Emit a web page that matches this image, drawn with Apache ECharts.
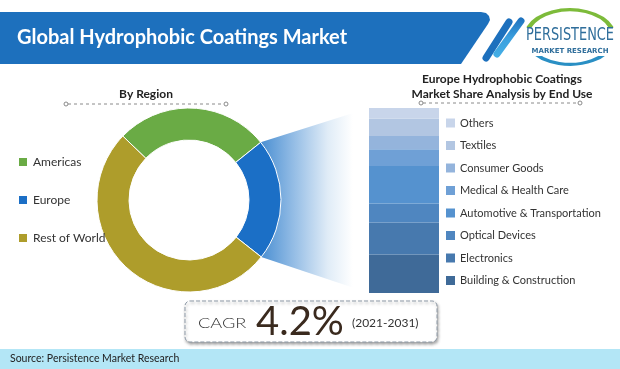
<!DOCTYPE html>
<html><head><meta charset="utf-8">
<script src="https://cdn.jsdelivr.net/npm/echarts@6/dist/echarts.min.js"></script>
<style>html,body{margin:0;padding:0;background:#fff}#c{width:620px;height:369px}</style>
</head><body><div id="c"></div>
<script>
// ---- data ----
const regionNames = ['Americas', 'Europe', 'Rest of World'];
const regionShares = [27.0, 21.4, 51.6];
const regionColors = ['#6aab45', '#1b6fc6', '#ae9d2b'];

const endUseNames = ['Building & Construction', 'Electronics', 'Optical Devices', 'Automotive & Transportation', 'Medical & Health Care', 'Consumer Goods', 'Textiles', 'Others'];
const endUseShares = [20.8, 17.3, 10.3, 20.3, 9.0, 7.2, 9.4, 5.7];
const endUseColors = ['#3f6a98', '#4779ae', '#4f86c0', '#5592cf', '#6fa0d6', '#94b4dc', '#b2c6e2', '#c8d5ea'];
const endUseLegendOrder = endUseNames.slice().reverse();

const titleText = 'Global Hydrophobic Coatings Market';
const cagrValue = '4.2%';
const cagrPeriod = '(2021-2031)';

// ---- chart ----
const chart = echarts.init(document.getElementById('c'), null, {renderer: 'canvas'});
const FONT = 'Lato, "Open Sans", sans-serif';
const pieCenter = [189, 200];
const pieRadius = [60, 92];
const pieStart = 136;

const barSeries = endUseNames.map((n, i) => ({
  type: 'bar', name: n, stack: 'eu', barWidth: '100%',
  data: [endUseShares[i]], itemStyle: {color: endUseColors[i]},
  emphasis: {disabled: true}, silent: true
}));

chart.setOption({
  animation: false,
  backgroundColor: '#ffffff',
  color: endUseColors,
  legend: [
    {
      data: regionNames, orient: 'vertical', left: 17, top: 156, padding: 0,
      itemWidth: 10, itemHeight: 10, itemGap: 26, icon: 'rect', selectedMode: false,
      textStyle: {fontFamily: FONT, fontSize: 12, color: '#333', lineHeight: 12}
    },
    {
      data: endUseLegendOrder, orient: 'vertical', left: 446, top: 117, padding: 0,
      itemWidth: 9, itemHeight: 9, itemGap: 10.5, icon: 'rect', selectedMode: false,
      textStyle: {fontFamily: FONT, fontSize: 11, color: '#333', lineHeight: 12}
    }
  ],
  grid: {left: 369, top: 108, width: 70, height: 185},
  xAxis: {type: 'category', data: ['Europe'], show: false},
  yAxis: {type: 'value', min: 0, max: 100, show: false},
  series: [
    {
      type: 'pie', name: 'By Region', center: pieCenter, radius: pieRadius,
      startAngle: pieStart, clockwise: true, label: {show: false}, labelLine: {show: false},
      silent: true, z: 3,
      itemStyle: {borderColor: '#ffffff', borderWidth: 1},
      data: regionNames.map((n, i) => ({name: n, value: regionShares[i], itemStyle: {color: regionColors[i]}}))
    }
  ].concat(barSeries)
});

// ---- decorations computed from the layout ----
const total = regionShares.reduce((a, b) => a + b, 0);
const a1 = pieStart - 360 * regionShares[0] / total;
const a2 = a1 - 360 * regionShares[1] / total;
const R = pieRadius[1];
const pt = a => [pieCenter[0] + R * Math.cos(a * Math.PI / 180), pieCenter[1] - R * Math.sin(a * Math.PI / 180)];
const rect = chart.getModel().getComponent('grid', 0).coordinateSystem.getRect();
const pTop = chart.convertToPixel({gridIndex: 0}, [0, 100]);
const pBot = chart.convertToPixel({gridIndex: 0}, [0, 0]);
const barLeft = rect.x;

function dashedRule(x1, x2, y) {
  return [
    {type: 'line', shape: {x1: x1 + 2, y1: y, x2: x2 - 2, y2: y}, style: {stroke: '#8a8a8a', lineWidth: 1, lineDash: [3, 3]}},
    {type: 'circle', shape: {cx: x1, cy: y, r: 2}, style: {fill: '#fff', stroke: '#8a8a8a', lineWidth: 1}},
    {type: 'circle', shape: {cx: x2, cy: y, r: 2}, style: {fill: '#fff', stroke: '#8a8a8a', lineWidth: 1}}
  ];
}

const graphics = [
  // connector from Europe slice to the bar
  {type: 'polygon', z: 0, silent: true,
   shape: {points: [pt(a1), [barLeft, pTop[1]], [barLeft, pBot[1]], pt(a2)]},
   style: {fill: new echarts.graphic.LinearGradient(0, 0, 1, 0, [
     {offset: 0, color: '#4a8fd2'}, {offset: 0.3, color: '#93bce5'},
     {offset: 0.62, color: '#e0ecf7'}, {offset: 0.85, color: '#ffffff'}, {offset: 1, color: '#ffffff'}])}},
  // banner
  {type: 'polygon', z: 5, shape: {points: [[0, 12], [481, 12], [486, 13], [489, 16], [490, 20], [488, 24], [461, 64], [0, 64]]},
   style: {fill: '#1d70bd'}},
  {type: 'line', z: 5, shape: {x1: 486, y1: 58, x2: 509, y2: 22}, style: {stroke: '#1d70bd', lineWidth: 7, lineCap: 'round'}},
  {type: 'line', z: 5, shape: {x1: 497, y1: 54, x2: 521, y2: 21},
   style: {stroke: new echarts.graphic.LinearGradient(0, 1, 0, 0, [{offset: 0, color: '#45b0e6'}, {offset: 0.5, color: '#3a9ede'}, {offset: 1, color: '#1d70bd'}]), lineWidth: 7, lineCap: 'round'}},
  {type: 'text', z: 6, style: {x: 17, y: 38, text: titleText, fill: '#ffffff', font: 'bold 20px ' + FONT, verticalAlign: 'middle'}},
  // logo
  {type: 'arc', z: 6, shape: {cx: 570, cy: 37, r: 44, startAngle: Math.PI * 1.12, endAngle: Math.PI * 1.88}, scaleY: 0.62, originX: 570, originY: 37,
   style: {stroke: '#7dbb3a', lineWidth: 5, fill: null, lineCap: 'round'}},
  {type: 'arc', z: 6, shape: {cx: 570, cy: 37, r: 44, startAngle: Math.PI * 0.08, endAngle: Math.PI * 0.85}, scaleY: 0.62, originX: 570, originY: 37,
   style: {stroke: '#2a8fc4', lineWidth: 5, fill: null, lineCap: 'round'}},
  {type: 'rect', z: 6, shape: {x: 524, y: 28, width: 92, height: 28}, style: {fill: '#ffffff'}},
  {type: 'text', z: 7, scaleX: 0.76, originX: 570, originY: 36,
   style: {x: 570, y: 36, text: 'PERSISTENCE', fill: '#2f6e9b', font: '17px "DejaVu Sans", sans-serif', align: 'center', verticalAlign: 'middle'}},
  {type: 'text', z: 7, style: {x: 570, y: 51, text: 'MARKET RESEARCH', fill: '#2f6e9b', font: 'bold 7px "DejaVu Sans", sans-serif', align: 'center', verticalAlign: 'middle'}},
  // headings
  {type: 'text', style: {x: 146, y: 94, text: 'By Region', fill: '#222', font: 'bold 12px ' + FONT, align: 'center', verticalAlign: 'middle'}},
  {type: 'text', style: {x: 502, y: 79, text: 'Europe Hydrophobic Coatings', fill: '#222', font: 'bold 12px ' + FONT, align: 'center', verticalAlign: 'middle'}},
  {type: 'text', style: {x: 502, y: 94, text: 'Market Share Analysis by End Use', fill: '#222', font: 'bold 12px ' + FONT, align: 'center', verticalAlign: 'middle'}},
  // CAGR box
  {type: 'rect', z: 4, shape: {x: 185, y: 301, width: 252, height: 41, r: 5},
   style: {fill: '#ffffff', stroke: '#8d99a6', lineWidth: 1, lineDash: [4, 2], shadowBlur: 3, shadowOffsetX: 1, shadowOffsetY: 2, shadowColor: 'rgba(0,0,0,0.35)'}},
  {type: 'text', z: 5, scaleX: 1.3, originX: 198, originY: 323,
   style: {x: 198, y: 323, text: 'CAGR', fill: '#333', font: '300 14px ' + FONT, verticalAlign: 'middle'}},
  {type: 'text', z: 5, style: {x: 256, y: 322, text: cagrValue, fill: '#3a2a1e', font: '400 40px ' + FONT, verticalAlign: 'middle'}},
  {type: 'text', z: 5, style: {x: 352, y: 323, text: cagrPeriod, fill: '#333', font: '12px ' + FONT, verticalAlign: 'middle'}},
  // footer
  {type: 'rect', z: 4, shape: {x: 0, y: 349, width: 620, height: 20}, style: {fill: '#b3e6f6'}},
  {type: 'text', z: 5, style: {x: 10, y: 359, text: 'Source: Persistence Market Research', fill: '#222', font: '10.5px ' + FONT, verticalAlign: 'middle'}}
].concat(dashedRule(66, 226, 104), dashedRule(421, 580, 103));

chart.setOption({graphic: graphics});
</script></body></html>
